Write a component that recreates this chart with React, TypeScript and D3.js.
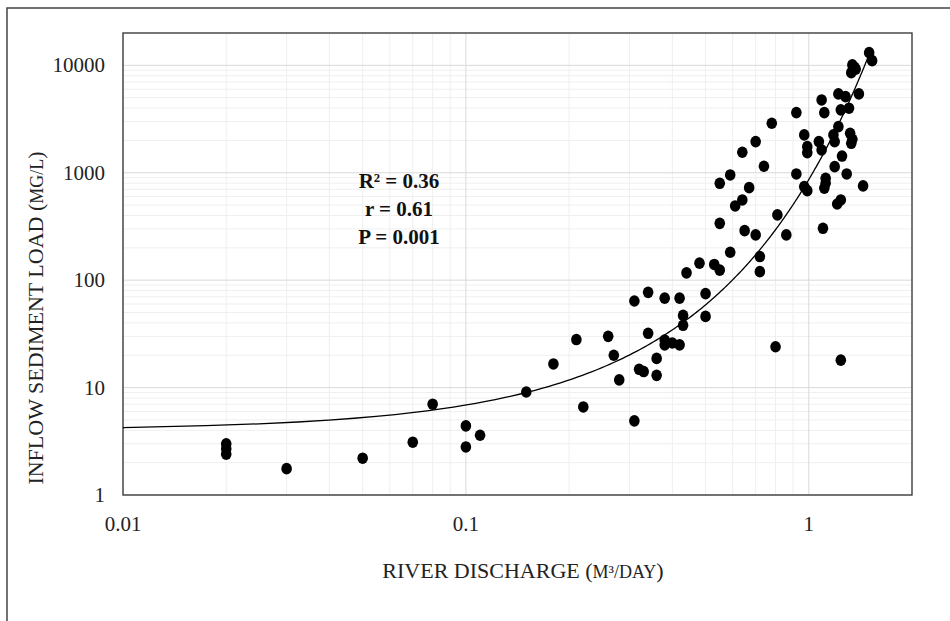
import * as d3 from 'd3'

// river discharge (m³/day) and inflow sediment load (mg/l)
const discharge = [
  0.02, 0.02, 0.02, 0.03, 0.05, 0.07, 0.08, 0.1, 0.1, 0.11,
  0.15, 0.18, 0.21, 0.22, 0.26, 0.27, 0.28, 0.31, 0.31, 0.34,
  0.34, 0.32, 0.33, 0.36, 0.36, 0.38, 0.38, 0.38, 0.4, 0.42,
  0.42, 0.43, 0.43, 0.44, 0.48, 0.5, 0.5, 0.53, 0.55, 0.59,
  0.55, 0.65, 0.7, 0.61, 0.64, 0.67, 0.55, 0.59, 0.64, 0.7,
  0.74, 0.78, 0.92, 0.81, 0.86, 0.72, 0.72, 0.92, 0.97, 0.99,
  0.97, 0.99, 0.99, 1.09, 1.11, 1.07, 1.09, 1.18, 1.19, 1.1,
  1.12, 1.12, 1.11, 1.19, 1.21, 1.24, 1.5, 1.53, 1.34, 1.36,
  1.33, 1.37, 1.4, 1.22, 1.28, 1.24, 1.31, 1.22, 1.32, 1.34,
  1.33, 1.25, 1.29, 1.44, 0.8, 1.24,
]
const sedimentLoad = [
  3.0, 2.7, 2.4, 1.76, 2.2, 3.1, 7.0, 4.4, 2.8, 3.6,
  9.1, 16.6, 28, 6.6, 30, 20, 11.8, 64, 4.9, 77,
  32, 14.8, 14.1, 18.7, 13, 68, 27.7, 25, 26, 25,
  68, 47, 38, 117, 144, 75, 46, 140, 124, 182,
  338, 289, 264, 491, 558, 727, 798, 954, 1552, 1950,
  1150, 2890, 3630, 405, 264, 166, 120, 975, 743, 681,
  2250, 1750, 1540, 4760, 3630, 1950, 1630, 2250, 1950, 304,
  889, 800, 720, 1140, 512, 558, 13130, 11060, 10090, 9600,
  8550, 9200, 5420, 5420, 5110, 3850, 3990, 2690, 2330, 2050,
  1880, 1430, 975, 754, 24, 18,
]

// exponential trendline y = a·e^(b·x), as drawn
const trendA = 4.02
const trendB = 5.37
const trendRange = [0.01, 1.5]

const xTickLabels = ['0.01', '0.1', '1']
const yTickLabels = ['1', '10', '100', '1000', '10000']
const statLines = ['R² = 0.36', 'r = 0.61', 'P = 0.001']

const W = 950
const H = 621
const margin = { top: 33, right: 38, bottom: 126, left: 123 }
const FONT = '"Liberation Serif", "Times New Roman", serif'

export default function App() {
  const x = d3.scaleLog().domain([0.01, 2]).range([margin.left, W - margin.right])
  const y = d3.scaleLog().domain([1, 20000]).range([H - margin.bottom, margin.top])

  const isMajor = (v: number) => Math.abs(Math.log10(v) - Math.round(Math.log10(v))) < 1e-9

  const xGrid = x.ticks()
  const yGrid = y.ticks()

  const trendX = d3.range(0, 201).map(i =>
    trendRange[0] + (trendRange[1] - trendRange[0]) * (i / 200))
  const trend = d3.line<number>()
    .x(d => x(d))
    .y(d => y(trendA * Math.exp(trendB * d)))

  const [x0, x1] = x.range()
  const [y0, y1] = y.range()

  return (
    <svg width={W} height={H} style={{ position: 'absolute', left: 0, top: 0, background: '#fff' }}
      fontFamily={FONT}>
      <rect x={0} y={0} width={W} height={H} fill="#fff" />
      {/* outer chart frame */}
      <rect x={7} y={8} width={W + 20} height={H + 20} fill="none" stroke="#444" strokeWidth={1.5} />

      {/* gridlines */}
      {xGrid.filter(v => !isMajor(v)).map(v => (
        <line key={'xm' + v} x1={x(v)} x2={x(v)} y1={y1} y2={y0} stroke="#efefef" />
      ))}
      {yGrid.filter(v => !isMajor(v)).map(v => (
        <line key={'ym' + v} x1={x0} x2={x1} y1={y(v)} y2={y(v)} stroke="#efefef" />
      ))}
      {xGrid.filter(isMajor).map(v => (
        <line key={'xM' + v} x1={x(v)} x2={x(v)} y1={y1} y2={y0} stroke="#d9d9d9" />
      ))}
      {yGrid.filter(isMajor).map(v => (
        <line key={'yM' + v} x1={x0} x2={x1} y1={y(v)} y2={y(v)} stroke="#d9d9d9" />
      ))}

      {/* plot area border */}
      <rect x={x0} y={y1} width={x1 - x0} height={y0 - y1} fill="none" stroke="#404040" strokeWidth={1.4} />

      {/* points */}
      {discharge.map((d, i) => (
        <ellipse key={i} cx={x(d)} cy={y(sedimentLoad[i])} rx={5.3} ry={5.8} fill="#000" />
      ))}

      {/* trendline */}
      <path d={trend(trendX) || ''} fill="none" stroke="#000" strokeWidth={1.3} />

      {/* tick labels */}
      {xTickLabels.map(t => (
        <text key={t} x={x(+t)} y={y0 + 36} textAnchor="middle" fontSize={21} fill="#222">{t}</text>
      ))}
      {yTickLabels.map(t => (
        <text key={t} x={x0 - 18} y={y(+t)} dy="0.34em" textAnchor="end" fontSize={21} fill="#222">{t}</text>
      ))}

      {/* axis titles */}
      <text x={523} y={578} textAnchor="middle" fontSize={22} fill="#222">
        RIVER DISCHARGE (<tspan fontSize={18}>M³/DAY</tspan>)
      </text>
      <text transform="translate(43,318) rotate(-90)" textAnchor="middle" fontSize={22} fill="#222">
        INFLOW SEDIMENT LOAD (<tspan fontSize={18}>MG/L</tspan>)
      </text>

      {/* statistics */}
      {statLines.map((s, i) => (
        <text key={s} x={399} y={188 + i * 28} textAnchor="middle" fontSize={21} fontWeight="bold" fill="#111">{s}</text>
      ))}
    </svg>
  )
}
